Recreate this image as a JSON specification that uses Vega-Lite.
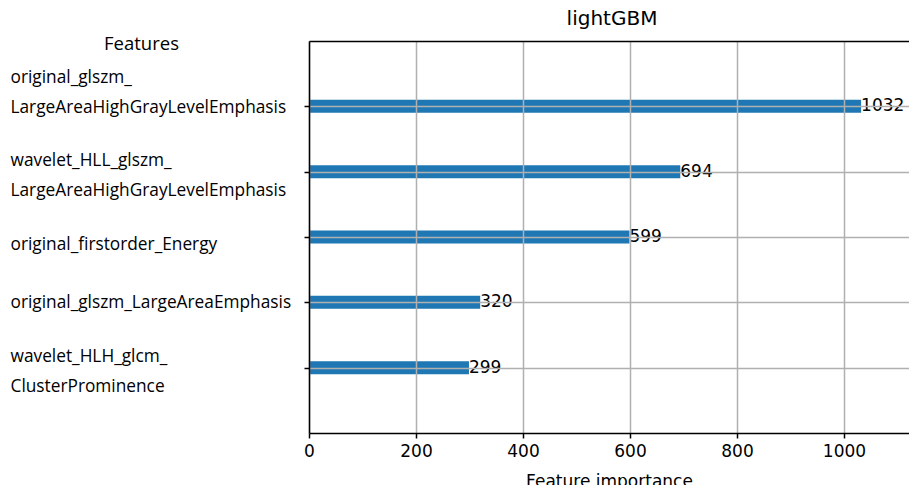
{
  "$schema": "https://vega.github.io/schema/vega-lite/v6.json",
  "width": 600,
  "height": 392,
  "autosize": {"type": "none"},
  "padding": {"left": 309, "top": 41, "right": 0, "bottom": 52},
  "background": "white",
  "config": {"view": {"stroke": null}},
  "title": {
    "text": "lightGBM",
    "font": "DejaVu Sans",
    "fontSize": 20,
    "fontWeight": "normal",
    "color": "black",
    "anchor": "middle",
    "offset": 5,
    "dx": 3
  },
  "data": {
    "values": [
      {"feature": "original_glszm_\nLargeAreaHighGrayLevelEmphasis", "importance": 1032},
      {"feature": "wavelet_HLL_glszm_\nLargeAreaHighGrayLevelEmphasis", "importance": 694},
      {"feature": "original_firstorder_Energy", "importance": 599},
      {"feature": "original_glszm_LargeAreaEmphasis", "importance": 320},
      {"feature": "wavelet_HLH_glcm_\nClusterProminence", "importance": 299}
    ]
  },
  "layer": [
    {
      "mark": {"type": "bar", "height": 13, "color": "#1f77b4"},
      "encoding": {
        "y": {
          "field": "feature",
          "type": "nominal",
          "sort": "-x",
          "scale": {"type": "point", "padding": 1},
          "axis": {
            "orient": "left",
            "zindex": 1,
            "domain": true,
            "domainColor": "black",
            "domainWidth": 1.5,
            "ticks": true,
            "tickSize": 5,
            "tickColor": "black",
            "tickWidth": 1.5,
            "grid": true,
            "gridColor": "#b0b0b0",
            "gridWidth": 1.5,
            "labelExpr": "split(datum.label, '\\n')",
            "labelAlign": "left",
            "labelBaseline": "middle",
            "labelPadding": 294,
            "labelOffset": {
              "condition": [
                {"test": "indexof(datum.value, 'original_glszm_\\n') == 0", "value": -29},
                {"test": "datum.value == 'original_firstorder_Energy'", "value": 7},
                {"test": "datum.value == 'original_glszm_LargeAreaEmphasis'", "value": 0}
              ],
              "value": -11
            },
            "labelFont": "Open Sans",
            "labelFontSize": 17.3,
            "labelLineHeight": 30,
            "labelColor": "black",
            "labelLimit": 0,
            "labelOverlap": false,
            "title": "Features",
            "titleAngle": 0,
            "titleX": -168,
            "titleY": 2,
            "titleAlign": "center",
            "titleBaseline": "middle",
            "titleFont": "Open Sans",
            "titleFontSize": 18.5,
            "titleFontWeight": "normal",
            "titleColor": "black"
          }
        },
        "x": {
          "field": "importance",
          "type": "quantitative",
          "scale": {"domain": [0, 1121.5], "nice": false, "zero": true},
          "axis": {
            "orient": "bottom",
            "zindex": 1,
            "values": [0, 200, 400, 600, 800, 1000],
            "format": "d",
            "domain": true,
            "domainColor": "black",
            "domainWidth": 1.5,
            "ticks": true,
            "tickSize": 5,
            "tickColor": "black",
            "tickWidth": 1.5,
            "grid": true,
            "gridColor": "#b0b0b0",
            "gridWidth": 1.5,
            "labelFont": "DejaVu Sans",
            "labelFontSize": 17,
            "labelColor": "black",
            "labelPadding": 5,
            "labelFlush": false,
            "title": "Feature importance",
            "titleFont": "DejaVu Sans",
            "titleFontSize": 17,
            "titleFontWeight": "normal",
            "titleColor": "black",
            "titlePadding": 14
          }
        }
      }
    },
    {
      "mark": {"type": "text", "align": "left", "baseline": "middle", "font": "DejaVu Sans", "fontSize": 17, "color": "black", "dx": 0},
      "encoding": {
        "y": {"field": "feature", "type": "nominal", "sort": "-x"},
        "x": {
          "field": "importance",
          "type": "quantitative",
          "axis": {"orient": "top", "labels": false, "ticks": false, "grid": false, "domain": true, "domainColor": "black", "domainWidth": 1.5, "title": null, "zindex": 1}
        },
        "text": {"field": "importance", "type": "quantitative"}
      }
    }
  ]
}
